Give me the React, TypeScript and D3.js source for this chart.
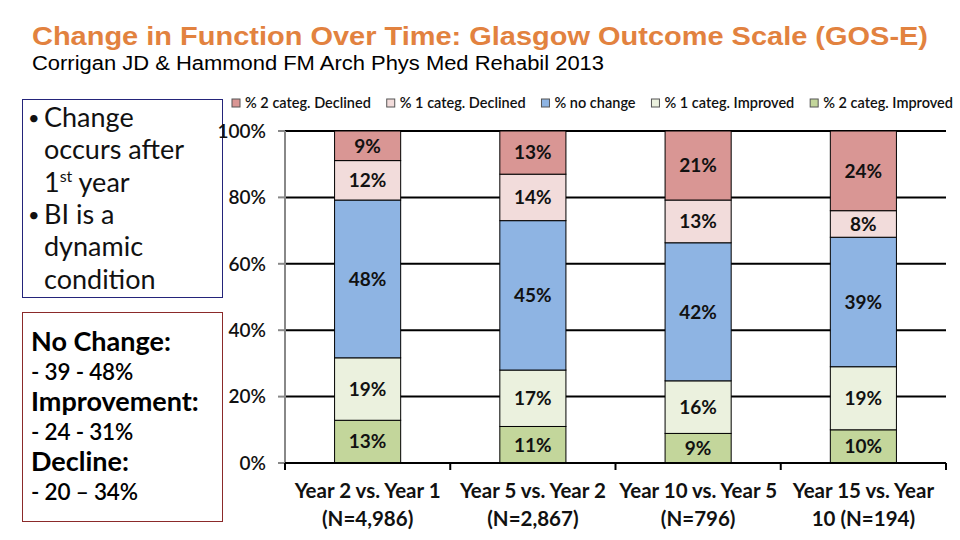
import React, { useEffect, useRef } from "react";
import * as d3 from "d3";

const categories = ["Y2vY1", "Y5vY2", "Y10vY5", "Y15vY10"];
const categoryLines = [
  ["Year 2 vs. Year 1", "(N=4,986)"],
  ["Year 5 vs. Year 2", "(N=2,867)"],
  ["Year 10 vs. Year 5", "(N=796)"],
  ["Year 15 vs. Year", "10 (N=194)"],
];
const seriesNames = ["% 2 categ. Declined", "% 1 categ. Declined", "% no change", "% 1 categ. Improved", "% 2 categ. Improved"];
const seriesColors = ["#D99694", "#F2DCDB", "#8EB4E3", "#EBF1DE", "#C3D69B"];
const declined2 = [9, 13, 21, 24];
const declined1 = [12, 14, 13, 8];
const noChange = [48, 45, 42, 39];
const improved1 = [19, 17, 16, 19];
const improved2 = [13, 11, 9, 10];
const yTicks = [0, 0.2, 0.4, 0.6, 0.8, 1];

const boxOneLines = ["Change", "occurs after", "1st year", "BI is a", "dynamic", "condition"];
const boxTwoLines = [
  { t: "No Change:", head: true },
  { t: "- 39 - 48%", head: false },
  { t: "Improvement:", head: true },
  { t: "- 24 - 31%", head: false },
  { t: "Decline:", head: true },
  { t: "- 20 \u2013 34%", head: false },
];

const W = 960;
const H = 540;
const font = "Lato, 'Open Sans', sans-serif";

export default function App() {
  const ref = useRef<SVGSVGElement>(null);

  useEffect(() => {
    const svg = d3.select(ref.current);
    svg.selectAll("*").remove();

    svg.append("rect").attr("width", W).attr("height", H).attr("fill", "#fff");

    // titles
    svg.append("text").attr("x", 32).attr("y", 45)
      .attr("font-family", "'Liberation Sans', Arial, sans-serif").attr("font-weight", "bold")
      .attr("font-size", 26).attr("fill", "#E2823F")
      .attr("textLength", 896).attr("lengthAdjust", "spacingAndGlyphs")
      .text("Change in Function Over Time: Glasgow Outcome Scale (GOS-E)");
    svg.append("text").attr("x", 32).attr("y", 70)
      .attr("font-family", "'Liberation Sans', Arial, sans-serif")
      .attr("font-size", 20).attr("fill", "#000")
      .attr("textLength", 572).attr("lengthAdjust", "spacingAndGlyphs")
      .text("Corrigan JD & Hammond FM Arch Phys Med Rehabil 2013");

    // left boxes
    svg.append("rect").attr("x", 22.5).attr("y", 99.5).attr("width", 200).attr("height", 198)
      .attr("fill", "none").attr("stroke", "#24247A").attr("stroke-width", 1);
    const b1 = svg.append("g").attr("font-family", font).attr("font-size", 27).attr("fill", "#111");
    boxOneLines.forEach((line, i) => {
      const y = 127 + i * 32.3;
      const bullet = i === 0 || i === 3;
      if (bullet) b1.append("text").attr("x", 28).attr("y", y - 2).attr("font-size", 20).text("\u2022");
      const t = b1.append("text").attr("x", 44).attr("y", y);
      if (line === "1st year") {
        t.append("tspan").text("1");
        t.append("tspan").attr("font-size", 16).attr("dy", -10).text("st");
        t.append("tspan").attr("dy", 10).text(" year");
      } else {
        t.text(line);
      }
    });

    svg.append("rect").attr("x", 22.5).attr("y", 312.5).attr("width", 200).attr("height", 209)
      .attr("fill", "none").attr("stroke", "#8B2A2A").attr("stroke-width", 1);
    const b2 = svg.append("g").attr("font-family", font).attr("fill", "#000");
    boxTwoLines.forEach((l, i) => {
      b2.append("text").attr("x", 31).attr("y", l.head ? 351 + i * 30 : 349.5 + i * 30)
        .attr("font-size", l.head ? 27 : 22.5).attr("font-weight", l.head ? "bold" : 600)
        .attr("letter-spacing", l.head ? 0 : -0.2)
        .text(l.t);
    });

    // chart
    const x = d3.scaleBand().domain(categories).range([285, 946]).paddingInner(0.6).paddingOuter(0.3);
    const y = d3.scaleLinear().domain([0, 1]).range([463, 131]);

    const rows = categories.map((c, i) => ({
      cat: c,
      improved2: improved2[i],
      improved1: improved1[i],
      noChange: noChange[i],
      declined1: declined1[i],
      declined2: declined2[i],
    }));
    const keys = ["improved2", "improved1", "noChange", "declined1", "declined2"];
    const keyColor: Record<string, string> = {
      improved2: seriesColors[4], improved1: seriesColors[3], noChange: seriesColors[2],
      declined1: seriesColors[1], declined2: seriesColors[0],
    };
    const stacked = d3.stack<any>().keys(keys).offset(d3.stackOffsetExpand)(rows);

    // gridlines
    svg.append("g").selectAll("line").data(yTicks.filter((d) => d > 0)).join("line")
      .attr("x1", 285).attr("x2", 946).attr("y1", (d) => y(d)).attr("y2", (d) => y(d))
      .attr("stroke", "#000").attr("stroke-width", 2);

    // y axis
    svg.append("line").attr("x1", 285).attr("x2", 285).attr("y1", y(1)).attr("y2", y(0))
      .attr("stroke", "#888").attr("stroke-width", 2);
    svg.append("g").selectAll("line").data(yTicks).join("line")
      .attr("x1", 278).attr("x2", 285).attr("y1", (d) => y(d)).attr("y2", (d) => y(d))
      .attr("stroke", "#888").attr("stroke-width", 2);
    svg.append("g").selectAll("text").data(yTicks).join("text")
      .attr("x", 266).attr("y", (d) => y(d)).attr("dy", "0.36em").attr("text-anchor", "end")
      .attr("font-family", font).attr("font-size", 19).attr("font-weight", 600).attr("fill", "#111")
      .text((d) => d3.format(".0%")(d));

    // bars
    const layers = svg.append("g").selectAll("g").data(stacked).join("g")
      .attr("fill", (s) => keyColor[s.key]);
    layers.selectAll("rect").data((s) => s).join("rect")
      .attr("x", (d: any) => x(d.data.cat)!).attr("width", x.bandwidth())
      .attr("y", (d) => y(d[1])).attr("height", (d) => y(d[0]) - y(d[1]))
      .attr("stroke", "#000").attr("stroke-width", 1);
    layers.selectAll("text").data((s) => s.map((d) => ({ d, key: s.key }))).join("text")
      .attr("x", (o: any) => x(o.d.data.cat)! + x.bandwidth() / 2)
      .attr("y", (o: any) => (y(o.d[0]) + y(o.d[1])) / 2).attr("dy", "0.36em")
      .attr("text-anchor", "middle").attr("font-family", font).attr("font-size", 19)
      .attr("font-weight", "bold").attr("fill", "#111")
      .text((o: any) => o.d.data[o.key] + "%");

    // bottom axis
    svg.append("line").attr("x1", 285).attr("x2", 946).attr("y1", y(0)).attr("y2", y(0))
      .attr("stroke", "#000").attr("stroke-width", 2);
    const bounds = categories.map((c) => x(c)! - (x.step() * 0.3)).concat([946]);
    svg.append("g").selectAll("line").data(bounds).join("line")
      .attr("x1", (d) => d).attr("x2", (d) => d).attr("y1", y(0)).attr("y2", y(0) + 7)
      .attr("stroke", "#000").attr("stroke-width", 2);
    const cl = svg.append("g").attr("font-family", font).attr("font-size", 20.5).attr("font-weight", "bold")
      .attr("fill", "#111").attr("text-anchor", "middle");
    categories.forEach((c, i) => {
      categoryLines[i].forEach((line, j) => {
        cl.append("text").attr("x", x(c)! + x.bandwidth() / 2).attr("y", 498 + j * 28).text(line);
      });
    });

    // legend
    const lg = svg.append("g").attr("font-family", font).attr("font-size", 14.5).attr("font-weight", 600).attr("fill", "#111");
    const items = seriesNames.map((n, i) => {
      const g = lg.append("g");
      g.append("rect").attr("width", 8).attr("height", 8).attr("y", -4)
        .attr("fill", seriesColors[i]).attr("stroke", "#555").attr("stroke-width", 1);
      const t = g.append("text").attr("x", 13).attr("dy", "0.36em").text(n);
      const w = 13 + (t.node() as SVGTextElement).getComputedTextLength();
      return { g, w };
    });
    const total = d3.sum(items, (d) => d.w);
    const gap = (953 - 232 - total) / (items.length - 1);
    let cx = 232;
    items.forEach((it) => {
      it.g.attr("transform", `translate(${cx},103)`);
      cx += it.w + gap;
    });
  }, []);

  return (
    <svg ref={ref} width={W} height={H} style={{ position: "absolute", left: 0, top: 0 }} />
  );
}
